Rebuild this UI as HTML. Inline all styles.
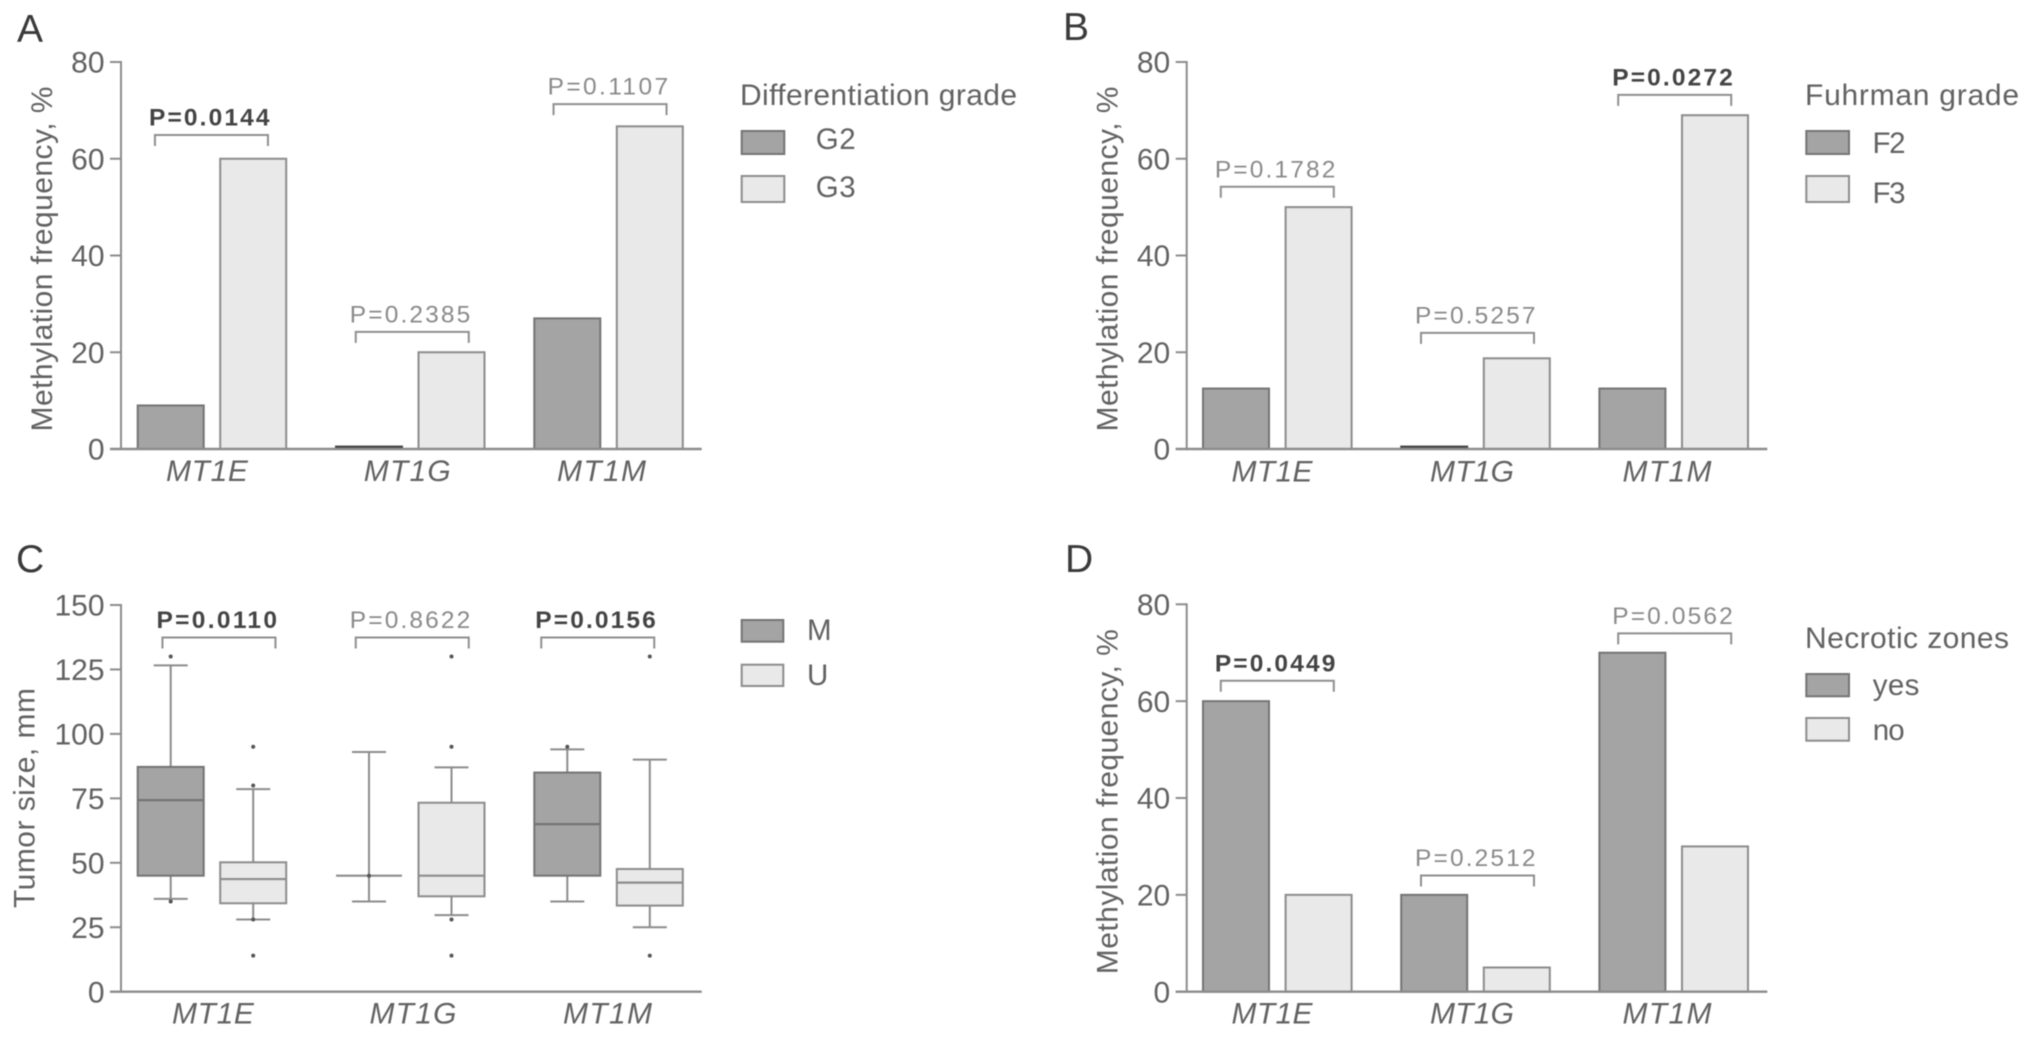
<!DOCTYPE html>
<html lang="en">
<head>
<meta charset="utf-8">
<title>MT1 methylation charts</title>
<style>
  html, body { margin: 0; padding: 0; background: #fff; }
  svg { display: block; filter: blur(0.6px); font-family: "Liberation Sans", sans-serif; }
</style>
</head>
<body>
<svg id="figure" xmlns="http://www.w3.org/2000/svg" width="2031" height="1037" viewBox="0 0 2031 1037">
  <rect x="0" y="0" width="2031" height="1037" fill="#ffffff"/>
</svg>
<script>
// Shared categories and tick labels
const genes = ['MT1E', 'MT1G', 'MT1M'];
const percentTicks = [0, 20, 40, 60, 80];
const sizeTicks = [0, 25, 50, 75, 100, 125, 150];

// Panel A
const aSeriesNames = ['G2', 'G3'];
const aG2 = [9, 0.5, 27];
const aG3 = [60, 20, 66.7];
const aPValues = ['P=0.0144', 'P=0.2385', 'P=0.1107'];
const aSignificant = [true, false, false];
const aBracketLevels = [64.9, 24.2, 71.3];

// Panel B
const bSeriesNames = ['F2', 'F3'];
const bF2 = [12.5, 0.5, 12.5];
const bF3 = [50, 18.75, 69];
const bPValues = ['P=0.1782', 'P=0.5257', 'P=0.0272'];
const bSignificant = [false, false, true];
const bBracketLevels = [54.2, 24, 73.2];

// Panel C: box plot summaries per gene
const cSeriesNames = ['M', 'U'];
const cMLow = [36, 35, 35];
const cMQ1 = [45, 45, 45];
const cMMedian = [74.3, 45, 65];
const cMQ3 = [87.2, 45, 85];
const cMHigh = [126.6, 93, 94];
const cMOutliers = [[130, 35], [45], [95]];
const cULow = [28, 29.7, 25];
const cUQ1 = [34.3, 37, 33.4];
const cUMedian = [43.7, 45, 42.3];
const cUQ3 = [50.2, 73.3, 47.6];
const cUHigh = [78.6, 87, 90];
const cUOutliers = [[95, 80, 28, 14], [130, 95, 28, 14], [130, 14]];
const cPValues = ['P=0.0110', 'P=0.8622', 'P=0.0156'];
const cSignificant = [true, false, true];
const cBracketLevels = [137.4, 137.4, 137.4];

// Panel D
const dSeriesNames = ['yes', 'no'];
const dYes = [60, 20, 70];
const dNo = [20, 5, 30];
const dPValues = ['P=0.0449', 'P=0.2512', 'P=0.0562'];
const dSignificant = [true, false, false];
const dBracketLevels = [64.2, 24, 74];

const SVG_NS = 'http://www.w3.org/2000/svg';
const figure = document.getElementById('figure');
const DARK_FILL = '#a4a4a4', DARK_STROKE = '#747474';
const LIGHT_FILL = '#e9e9e9', LIGHT_STROKE = '#8c8c8c';
const AXIS = '#8c8c8c', INK = '#626262';

function make(tag, attrs, parent) {
  const node = document.createElementNS(SVG_NS, tag);
  Object.keys(attrs).forEach(function (k) { node.setAttribute(k, attrs[k]); });
  parent.appendChild(node);
  return node;
}

function label(parent, str, x, y, size, length, anchor, color, extra) {
  const attrs = { x: x, y: y, 'font-size': size, 'text-anchor': anchor, fill: color, textLength: length, lengthAdjust: 'spacing' };
  Object.assign(attrs, extra || {});
  const t = make('text', attrs, parent);
  t.textContent = str;
  return t;
}

function drawFrame(p) {
  const g = make('g', {}, figure);
  
  

  p.yScale = function (v) { return p.y0 - v * (p.y0 - p.yTop) / p.max; };
  p.barX = function (group, series) { return p.x0 + group * p.step + series * p.offset; };
  p.groupCenter = function (group) { return p.barX(group, 0) + (p.offset + p.barW) / 2; };

  const letter = label(g, p.letter, p.letterX, p.letterY, 39, p.letterW, 'start', '#3a3a3a');
  
  

  const title = label(g, p.yTitle, 0, 0, 30, p.yTitleLen, 'middle', INK, {
    transform: 'translate(' + p.yTitleX + ' ' + p.yTitleY + ') rotate(-90)'
  });
  
  

  p.ticks.forEach(function (v) {
    const yy = p.yScale(v);
    const tick = make('line', { x1: p.axisX - 11, x2: p.axisX, y1: yy, y2: yy, stroke: AXIS, 'stroke-width': 2 }, g);
    
    
    const s = String(v);
    const tl = label(g, s, p.axisX - 16.5, yy + 10.7, 30, s.length * 16.68, 'end', INK);
    
    
  });

  return g;
}

function drawAxes(p, g) {
  const yAxis = make('line', { x1: p.axisX, x2: p.axisX, y1: p.yTop - 1, y2: p.y0, stroke: AXIS, 'stroke-width': 2 }, g);
  
  
  const xAxis = make('line', { x1: p.axisX - 11, x2: p.xEnd, y1: p.y0, y2: p.y0, stroke: AXIS, 'stroke-width': 2.4 }, g);
  
  

  genes.forEach(function (gene, i) {
    const t = label(g, gene, p.groupCenter(i) + p.labelShift[i], p.xLabelY, 30, p.labelLen[i], 'middle', INK, { 'font-style': 'italic' });
    
    
  });
}

function drawBrackets(p, g, pValues, significant, levels) {
  genes.forEach(function (gene, i) {
    const cx = p.groupCenter(i) + p.bracketShift[i];
    const top = p.yScale(levels[i]);
    const b = make('path', {
      d: 'M' + (cx - 56.5) + ' ' + (top + 11) + 'V' + top + 'H' + (cx + 56.5) + 'V' + (top + 11),
      fill: 'none', stroke: '#8f8f8f', 'stroke-width': 2
    }, g);
    
    
    const t = label(g, pValues[i], cx - 2.2, top - 9.5, 24.5, 120.5, 'middle', significant[i] ? '#444444' : '#8a8a8a', {
      'font-weight': significant[i] ? 'bold' : 'normal'
    });
    
    
  });
}

function drawLegend(p, g, names) {
  const L = p.legend;
  if (L.title) {
    const t = label(g, L.title, L.titleX, L.titleY, 30, L.titleLen, 'start', INK);
    
    
  }
  names.forEach(function (name, i) {
    const sw = make('rect', {
      x: L.swatchX, y: L.swatchY[i], width: L.swatchW, height: L.swatchH[i],
      fill: i === 0 ? DARK_FILL : LIGHT_FILL, stroke: i === 0 ? DARK_STROKE : LIGHT_STROKE, 'stroke-width': 2
    }, g);
    
    
    const t = label(g, name, L.textX, L.textY[i], 29.5, L.textLen[i], 'start', INK);
    
    
  });
}

function drawBars(p, g, first, second) {
  [first, second].forEach(function (values, s) {
    values.forEach(function (v, i) {
      const top = p.yScale(v);
      const tiny = v < 1;
      const r = make('rect', {
        x: p.barX(i, s), y: top, width: p.barW, height: p.y0 - top,
        fill: s === 0 ? (tiny ? '#444444' : DARK_FILL) : LIGHT_FILL,
        stroke: s === 0 ? (tiny ? '#444444' : DARK_STROKE) : LIGHT_STROKE,
        'stroke-width': 2
      }, g);
      
      
    });
  });
}

function drawBoxes(p, g, seriesIndex, low, q1, median, q3, high, outliers) {
  const fill = seriesIndex === 0 ? DARK_FILL : LIGHT_FILL;
  const edge = seriesIndex === 0 ? DARK_STROKE : LIGHT_STROKE;
  genes.forEach(function (gene, i) {
    const x = p.barX(i, seriesIndex);
    const cx = x + p.barW / 2;
    const whisker = make('path', {
      d: 'M' + cx + ' ' + p.yScale(low[i]) + 'V' + p.yScale(high[i]) +
         'M' + (cx - 17) + ' ' + p.yScale(high[i]) + 'H' + (cx + 17) +
         'M' + (cx - 17) + ' ' + p.yScale(low[i]) + 'H' + (cx + 17),
      fill: 'none', stroke: '#8c8c8c', 'stroke-width': 2
    }, g);
    
    
    const box = make('rect', {
      x: x, y: p.yScale(q3[i]), width: p.barW, height: p.yScale(q1[i]) - p.yScale(q3[i]),
      fill: fill, stroke: edge, 'stroke-width': 2
    }, g);
    
    
    const med = make('line', {
      x1: x, x2: x + p.barW, y1: p.yScale(median[i]), y2: p.yScale(median[i]),
      stroke: q1[i] === q3[i] ? '#8c8c8c' : edge, 'stroke-width': 2.2
    }, g);
    
    
    outliers[i].forEach(function (v) {
      const dot = make('circle', { cx: cx, cy: p.yScale(v), r: 2, fill: '#555555' }, g);
      
      
    });
  });
}

const panelA = {
  id: 'panel-a', letter: 'A', letterX: 17, letterY: 42, letterW: 27,
  axisX: 121, yTop: 62, y0: 449, xEnd: 701.7, max: 80, ticks: percentTicks,
  x0: 137.7, step: 198.3, offset: 82.5, barW: 66, seriesKeys: ['g2', 'g3'],
  yTitle: 'Methylation frequency, %', yTitleLen: 345, yTitleX: 52, yTitleY: 259,
  xLabelY: 481, labelShift: [-5, -3, -7], labelLen: [82, 87, 89], bracketShift: [-0.5, 2, 1.5],
  legend: { title: 'Differentiation grade', titleX: 740, titleY: 105, titleLen: 277,
    swatchX: 741.7, swatchY: [131, 176], swatchW: 42.6, swatchH: [23, 26],
    textX: 815.7, textY: [149, 197], textLen: [40, 40] }
};
const panelB = {
  id: 'panel-b', letter: 'B', letterX: 1063, letterY: 40, letterW: 27,
  axisX: 1186.7, yTop: 62, y0: 449, xEnd: 1767.3, max: 80, ticks: percentTicks,
  x0: 1203, step: 198.2, offset: 82.6, barW: 66, seriesKeys: ['f2', 'f3'],
  yTitle: 'Methylation frequency, %', yTitleLen: 345, yTitleX: 1117.7, yTitleY: 259,
  xLabelY: 481.5, labelShift: [-5.3, -3.5, -6.7], labelLen: [81, 84, 89], bracketShift: [0, 2, 1],
  legend: { title: 'Fuhrman grade', titleX: 1805, titleY: 105, titleLen: 214,
    swatchX: 1806.3, swatchY: [131, 176], swatchW: 42.7, swatchH: [23, 26],
    textX: 1872.5, textY: [153, 203], textLen: [33, 33] }
};
const panelC = {
  id: 'panel-c', letter: 'C', letterX: 16, letterY: 572, letterW: 29,
  axisX: 121, yTop: 605, y0: 991.7, xEnd: 701.7, max: 150, ticks: sizeTicks,
  x0: 137.7, step: 198.3, offset: 82.5, barW: 66, seriesKeys: ['m', 'u'],
  yTitle: 'Tumor size, mm', yTitleLen: 220, yTitleX: 34.5, yTitleY: 798,
  xLabelY: 1023.5, labelShift: [1, 2.7, -1], labelLen: [82, 87, 89], bracketShift: [7, 2, -10.8],
  legend: { swatchX: 741.7, swatchY: [620, 664.7], swatchW: 41.6, swatchH: [21.7, 21.3],
    textX: 807, textY: [640, 685], textLen: [24, 19] }
};
const panelD = {
  id: 'panel-d', letter: 'D', letterX: 1065, letterY: 572, letterW: 27,
  axisX: 1186.7, yTop: 604.3, y0: 991.7, xEnd: 1767.3, max: 80, ticks: percentTicks,
  x0: 1203, step: 198.2, offset: 82.6, barW: 66, seriesKeys: ['yes', 'no'],
  yTitle: 'Methylation frequency, %', yTitleLen: 345, yTitleX: 1117.7, yTitleY: 801.7,
  xLabelY: 1023.5, labelShift: [-5.3, -3.5, -6.7], labelLen: [81, 84, 89], bracketShift: [0, 2, 1],
  legend: { title: 'Necrotic zones', titleX: 1805, titleY: 648, titleLen: 204,
    swatchX: 1806.3, swatchY: [674, 718], swatchW: 42.7, swatchH: [22.3, 22.7],
    textX: 1872.7, textY: [695, 740], textLen: [46.7, 32] }
};

const gA = drawFrame(panelA);
drawBars(panelA, gA, aG2, aG3);
drawAxes(panelA, gA);
drawBrackets(panelA, gA, aPValues, aSignificant, aBracketLevels);
drawLegend(panelA, gA, aSeriesNames);

const gB = drawFrame(panelB);
drawBars(panelB, gB, bF2, bF3);
drawAxes(panelB, gB);
drawBrackets(panelB, gB, bPValues, bSignificant, bBracketLevels);
drawLegend(panelB, gB, bSeriesNames);

const gC = drawFrame(panelC);
drawBoxes(panelC, gC, 0, cMLow, cMQ1, cMMedian, cMQ3, cMHigh, cMOutliers);
drawBoxes(panelC, gC, 1, cULow, cUQ1, cUMedian, cUQ3, cUHigh, cUOutliers);
drawAxes(panelC, gC);
drawBrackets(panelC, gC, cPValues, cSignificant, cBracketLevels);
drawLegend(panelC, gC, cSeriesNames);

const gD = drawFrame(panelD);
drawBars(panelD, gD, dYes, dNo);
drawAxes(panelD, gD);
drawBrackets(panelD, gD, dPValues, dSignificant, dBracketLevels);
drawLegend(panelD, gD, dSeriesNames);
</script>
</body>
</html>
